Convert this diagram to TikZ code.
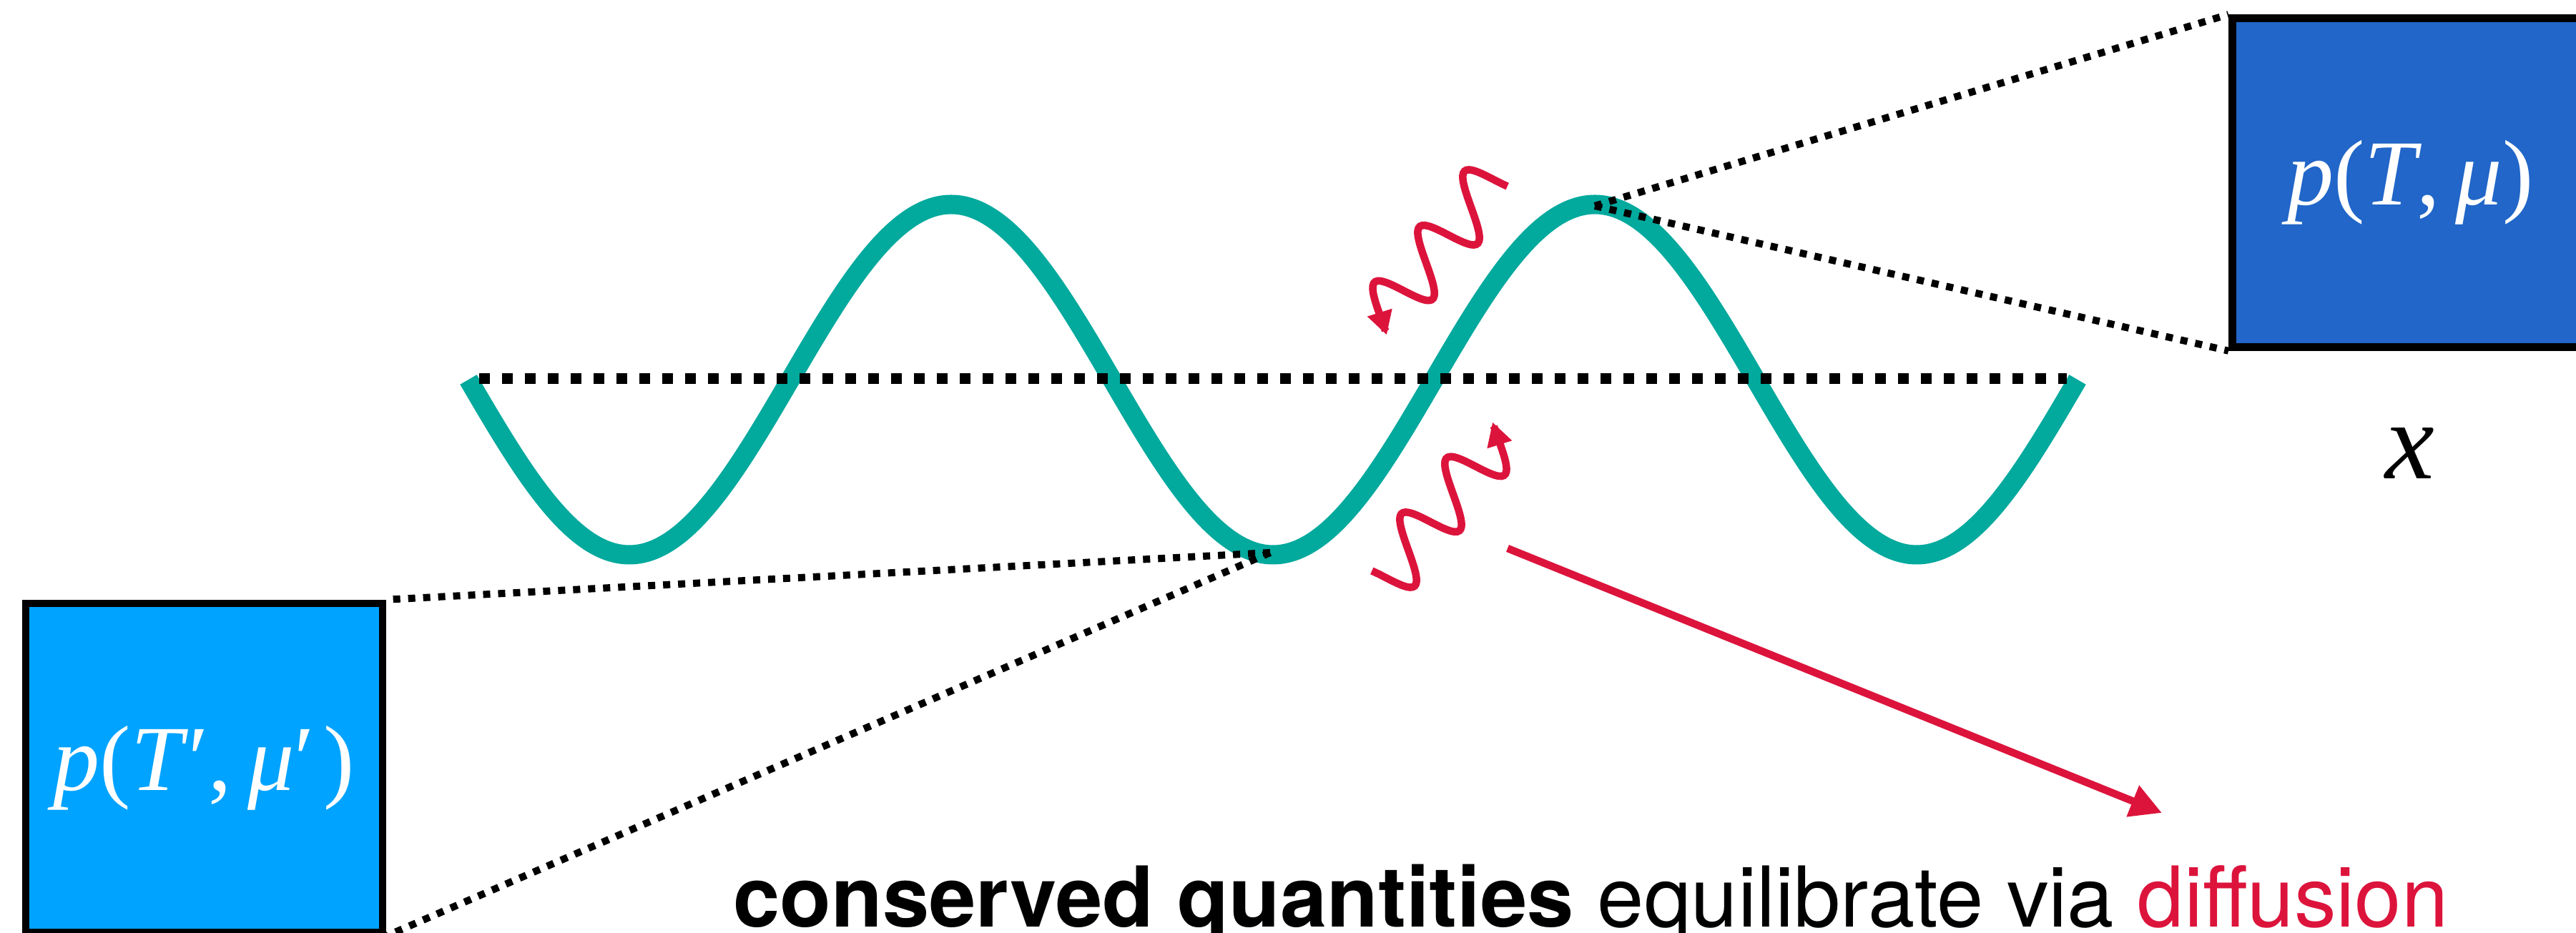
\documentclass[tikz,border=0pt]{standalone}
\usepackage{fontspec}
\setsansfont{TeX Gyre Heros}
\newfontfamily\symfont{Liberation Serif}
\usetikzlibrary{arrows.meta}
\definecolor{WaveTeal}{HTML}{02A99D}
\definecolor{DiffRed}{HTML}{DC143C}
\definecolor{HotBlue}{HTML}{2166C8}
\definecolor{ColdBlue}{HTML}{00A3FF}

\begin{document}
\begin{tikzpicture}[font=\sffamily,
  statebox/.style={draw=black,line width=.105cm,minimum width=4.985cm,minimum height=4.6cm,inner sep=0pt,text=white,font=\symfont\fontsize{37}{44}\selectfont},
  wave/.style={draw=WaveTeal,line width=.27cm},
  axisline/.style={line width=.15cm,dash pattern=on .15cm off .17cm},
  zoomline/.style={line width=.1cm,dash pattern=on .1cm off .11cm},
  photon/.style={draw=DiffRed,line width=.105cm,-{Triangle[length=.33cm,width=.34cm]}},
  flow/.style={draw=DiffRed,line width=.105cm,-{Triangle[length=.44cm,width=.445cm]}}]
\useasboundingbox (0,0) rectangle (36.02,13.05);
\clip (0,0) rectangle (36.02,13.05);
% the string and its rest line
\draw[wave] (6.55,7.74) sin (8.80,5.29) cos (11.05,7.74) sin (13.30,10.19) cos (15.55,7.74) sin (17.80,5.29) cos (20.05,7.74) sin (22.30,10.19) cos (24.55,7.74) sin (26.80,5.29) cos (29.05,7.74);
\coordinate (rest0) at (6.70,7.75);
\coordinate (rest1) at (28.90,7.75);
\draw[axisline] (rest0)--(rest1);
\coordinate (crest) at (22.30,10.17);
\coordinate (trough) at (17.76,5.32);
% local states
\node[statebox,fill=HotBlue] (hot) at (33.705,10.495) {\textit{p}(\textit{T},\hspace{.17em}\textit{μ})};
\node[statebox,fill=ColdBlue] (cold) at (2.855,2.31) {\textit{p}(\textit{T}′,\hspace{.17em}\textit{μ}′\hspace{.1em})};
\draw[zoomline] (crest)--(hot.north west);
\draw[zoomline] (crest)--(hot.south west);
\draw[zoomline] (trough)--(cold.north east);
\draw[zoomline] (trough)--(cold.south east);
\node[font=\symfont\fontsize{44}{50}\selectfont] (xlab) at (33.70,6.71) {\textit{x}};
% exchange between neighbouring cells
\draw[photon,shift={(20.57,10.15)},rotate=-129,xslant=.2] plot[domain=-.59:2.09,samples=90,smooth] (\x,{.39*sin(360*\x)});
\draw[photon,shift={(19.69,5.36)},rotate=51,xslant=.2] plot[domain=-.59:2.09,samples=90,smooth] (\x,{.39*sin(360*\x)});
\coordinate (diff0) at (21.08,5.38);
\coordinate (diff1) at (30.23,1.68);
\draw[flow] (diff0)--(diff1);
\node[anchor=base west,inner sep=0pt,font=\sffamily\fontsize{33.4}{40}\selectfont] (cap) at (10.25,.08) {\textbf{conserved quantities} equilibrate via \textcolor{DiffRed}{diffusion}};
\end{tikzpicture}
\end{document}
